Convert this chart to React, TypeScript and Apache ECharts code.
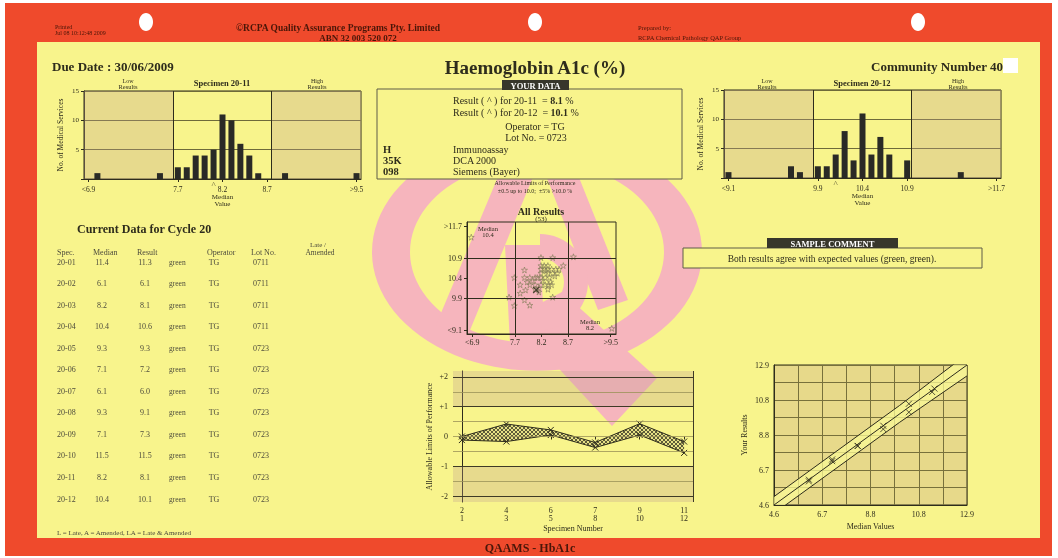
import React, { useEffect, useRef } from 'react';
import * as echarts from 'echarts';

const SERIF = '"Liberation Serif", "DejaVu Serif", serif';
const INK = '#2e2c1c';
const GREY = '#4d4b3c';
const RED = '#ef4a2c';
const YELLOW = '#f8f48c';
const TAN = 'rgba(191,158,147,0.30)';
const PINK = '#f6b5bd';

// ---- Histogram specimen 20-11 (31 bins: 10 low, 11 middle, 10 high) ----
const hist1Counts = [0, 1, 0, 0, 0, 0, 0, 0, 1, 0, 2, 2, 4, 4, 5, 11, 10, 6, 4, 1, 0, 0, 1, 0, 0, 0, 0, 0, 0, 0, 1];
const hist1TickBins = [0, 10, 15, 20, 30];
const hist1TickLabels = ['<6.9', '7.7', '8.2', '8.7', '>9.5'];
const hist1ResultBin = 14;

// ---- Histogram specimen 20-12 ----
const hist2Counts = [1, 0, 0, 0, 0, 0, 0, 2, 1, 0, 2, 2, 4, 8, 3, 11, 4, 7, 4, 0, 3, 0, 0, 0, 0, 0, 1, 0, 0, 0, 0];
const hist2TickBins = [0, 10, 15, 20, 30];
const hist2TickLabels = ['<9.1', '9.9', '10.4', '10.9', '>11.7'];
const hist2ResultBin = 12;

const histLowEnd = 10;
const histHighStart = 21;

// ---- All results scatter (20-11 vs 20-12) ----
const allResults: number[][] = [
  [6.88, 11.42], [7.59, 9.92], [7.69, 10.41], [7.69, 9.71], [7.8, 10.23], [7.8, 10.02],
  [7.88, 10.6], [7.88, 10.41], [7.88, 9.85], [7.98, 10.41], [7.98, 10.23], [7.98, 9.72],
  [8.08, 10.41], [8.08, 10.23], [8.08, 10.12], [8.19, 10.91], [8.41, 10.91], [8.8, 10.93],
  [8.19, 10.71], [8.25, 10.71], [8.32, 10.71], [8.61, 10.71], [8.19, 10.62], [8.25, 10.62],
  [8.32, 10.62], [8.39, 10.62], [8.47, 10.62], [8.53, 10.62], [8.19, 10.52], [8.32, 10.52],
  [8.41, 10.52], [8.5, 10.52], [8.12, 10.41], [8.19, 10.41], [8.27, 10.41], [8.35, 10.41],
  [8.19, 10.23], [8.27, 10.23], [8.33, 10.23], [8.39, 10.23], [8.15, 10.15], [8.32, 10.12],
  [8.41, 9.92], [9.52, 9.14], [7.93, 10.3], [8.03, 10.33], [8.22, 10.34], [8.45, 10.45],
  [8.15, 10.05], [7.9, 10.1], [8.28, 10.58], [8.37, 10.3],
];
const allXTicks = [6.9, 7.7, 8.2, 8.7, 9.5];
const allXLabels = ['<6.9', '7.7', '8.2', '8.7', '>9.5'];
const allYTicks = [9.1, 9.9, 10.4, 10.9, 11.7];
const allYLabels = ['<9.1', '9.9', '10.4', '10.9', '>11.7'];
const myResult = [8.1, 10.1];

// ---- Current data table ----
const specs = ['20-01', '20-02', '20-03', '20-04', '20-05', '20-06', '20-07', '20-08', '20-09', '20-10', '20-11', '20-12'];
const medians = [11.4, 6.1, 8.2, 10.4, 9.3, 7.1, 6.1, 9.3, 7.1, 11.5, 8.2, 10.4];
const results = [11.3, 6.1, 8.1, 10.6, 9.3, 7.2, 6.0, 9.1, 7.3, 11.5, 8.1, 10.1];
const statuses = ['green', 'green', 'green', 'green', 'green', 'green', 'green', 'green', 'green', 'green', 'green', 'green'];
const operators = ['TG', 'TG', 'TG', 'TG', 'TG', 'TG', 'TG', 'TG', 'TG', 'TG', 'TG', 'TG'];
const lots = ['0711', '0711', '0711', '0711', '0723', '0723', '0723', '0723', '0723', '0723', '0723', '0723'];

// ---- Allowable limits of performance ----
const perfTopLabels = ['2', '4', '6', '7', '9', '11'];
const perfBottomLabels = ['1', '3', '5', '8', '10', '12'];
const perfUpper = [0.0, 0.42, 0.22, -0.2, 0.43, -0.17];
const perfLower = [-0.12, -0.17, 0.05, -0.37, 0.05, -0.55];
const perfDarkLines = [-2, -1, 1, 2];
const perfLightLines = [-1.5, -0.5, 0, 0.5, 1.5];

// ---- Your results vs median ----
const limitX = [4.6, 10.0, 12.9];
const limitUpper = [5.1, 10.5, 13.545];
const limitLower = [4.1, 9.5, 12.255];
const identityLine = [[4.6, 4.6], [12.9, 12.9]];

const STAR = 'path://M5,0L6.2,3.6L10,3.6L6.9,5.9L8.1,9.5L5,7.3L1.9,9.5L3.1,5.9L0,3.6L3.8,3.6Z';
const CROSS = 'path://M0,0L10,10M10,0L0,10';

const txtStyle = (size: number, extra: any = {}) => ({ fontSize: size, color: INK, fontFamily: SERIF, ...extra });

function T(text: string, x: number, y: number, size: number, o: any = {}) {
  return {
    type: 'text', x, y, z: 20, silent: true,
    style: {
      text, fill: o.fill || INK,
      font: `${o.bold ? 'bold ' : ''}${size}px ${SERIF}`,
      textAlign: o.align || 'left', textVerticalAlign: 'middle',
      rich: o.rich,
    },
  };
}

function histogram(gi: number, counts: number[], tickBins: number[], tickLabels: string[], resultBin: number) {
  const tickVals = tickBins.map((b) => b + 0.5);
  const xAxis = {
    gridIndex: gi, type: 'value', min: 0, max: counts.length,
    axisLine: { show: true, lineStyle: { color: INK, width: 1 } },
    axisTick: { show: true, customValues: tickVals, length: 3, lineStyle: { color: INK } },
    axisLabel: {
      show: true, customValues: tickVals, margin: 6, ...txtStyle(7.5),
      formatter: (v: number) => {
        const i = tickVals.findIndex((t) => Math.abs(t - v) < 1e-6);
        return i >= 0 ? tickLabels[i] : '';
      },
    },
    splitLine: { show: false },
    name: 'Median\nValue', nameLocation: 'middle', nameGap: 13,
    nameTextStyle: txtStyle(7, { lineHeight: 7 }),
  };
  const yAxis = {
    gridIndex: gi, type: 'value', min: 0, max: 15, interval: 5,
    axisLine: { show: true, lineStyle: { color: INK } },
    axisTick: { show: true, length: 3, lineStyle: { color: INK } },
    axisLabel: { ...txtStyle(7), margin: 5, formatter: (v: number) => (v === 0 ? '' : String(v)) },
    splitLine: { show: true, lineStyle: { color: '#6e6a3a', width: 1 } },
    name: 'No. of Medical Services', nameLocation: 'middle', nameGap: 20,
    nameTextStyle: txtStyle(7.5),
  };
  const series = [
    {
      type: 'bar', xAxisIndex: gi, yAxisIndex: gi, barWidth: 6,
      data: counts.map((c, i) => [i + 0.5, c]).filter((d) => d[1] > 0),
      itemStyle: { color: '#2a2a26' }, silent: true,
      markArea: {
        silent: true, itemStyle: { color: TAN },
        data: [[{ xAxis: 0 }, { xAxis: histLowEnd }], [{ xAxis: histHighStart }, { xAxis: counts.length }]],
      },
      markLine: {
        silent: true, symbol: 'none', label: { show: false },
        lineStyle: { color: INK, width: 1, type: 'solid' },
        data: [{ xAxis: histLowEnd }, { xAxis: histHighStart }],
      },
    },
    {
      type: 'scatter', xAxisIndex: gi, yAxisIndex: gi, data: [[resultBin + 0.5, 0]],
      symbolSize: 2, itemStyle: { color: 'transparent' }, silent: true,
      label: { show: true, formatter: '^', position: 'bottom', distance: 0, ...txtStyle(9) },
    },
  ];
  return { xAxis, yAxis, series };
}

// band between two lines, drawn as one polygon through the axes' scales
function bandSeries(xi: number, xs: number[], top: number[], bottom: number[], fill: any) {
  return {
    type: 'custom', xAxisIndex: xi, yAxisIndex: xi, clip: true, silent: true, z: 1,
    data: xs.map((x, i) => [x, top[i], bottom[i]]),
    encode: { x: 0, y: [1, 2] },
    renderItem: (params: any, api: any) => {
      if (params.dataIndex !== 0) return null;
      const up = xs.map((x, i) => api.coord([x, top[i]]));
      const dn = xs.map((x, i) => api.coord([x, bottom[i]])).reverse();
      return { type: 'polygon', shape: { points: [...up, ...dn] }, style: { fill, stroke: 'none' } };
    },
  };
}

function buildOption(pattern: any) {
  const h1 = histogram(0, hist1Counts, hist1TickBins, hist1TickLabels, hist1ResultBin);
  const h2 = histogram(1, hist2Counts, hist2TickBins, hist2TickLabels, hist2ResultBin);

  const lookup = (ticks: number[], labels: string[]) => (v: number) => {
    const i = ticks.findIndex((t) => Math.abs(t - v) < 1e-6);
    return i >= 0 ? labels[i] : '';
  };

  const gridBorder = { show: true, borderColor: INK, borderWidth: 1, backgroundColor: 'transparent' };

  const grid = [
    { left: 84, top: 91, width: 277, height: 88, ...gridBorder },
    { left: 724, top: 90, width: 277, height: 88, ...gridBorder },
    { left: 467, top: 222, width: 149, height: 112, ...gridBorder },
    { left: 453, top: 371, width: 240, height: 131, show: false },
    { left: 774, top: 365, width: 193, height: 140, show: true, borderColor: INK, borderWidth: 1, backgroundColor: '#e7d98a' },
  ];

  const xAxis: any[] = [
    h1.xAxis, h2.xAxis,
    {
      gridIndex: 2, type: 'value', min: 6.8, max: 9.6,
      axisLine: { show: true, lineStyle: { color: INK } },
      axisTick: { show: true, customValues: allXTicks, length: 3, lineStyle: { color: INK } },
      axisLabel: { customValues: allXTicks, formatter: lookup(allXTicks, allXLabels), margin: 4, ...txtStyle(8) },
      splitLine: { show: false },
    },
    {
      gridIndex: 3, type: 'value', min: -0.2, max: 5.2,
      axisLine: { show: false },
      axisTick: { show: true, customValues: [0, 1, 2, 3, 4, 5], length: 3, lineStyle: { color: INK } },
      axisLabel: {
        customValues: [0, 1, 2, 3, 4, 5], margin: 5, ...txtStyle(8, { lineHeight: 7.5 }),
        formatter: (v: number) => {
          const i = Math.round(v);
          return `${perfTopLabels[i]}\n${perfBottomLabels[i]}`;
        },
      },
      splitLine: { show: false },
      name: 'Specimen Number', nameLocation: 'middle', nameGap: 22, nameTextStyle: txtStyle(8),
    },
    {
      gridIndex: 4, type: 'value', min: 4.6, max: 12.9, interval: 1.0375,
      axisLine: { show: true, lineStyle: { color: INK } },
      axisTick: { show: false },
      axisLabel: { ...txtStyle(8), margin: 5, formatter: (v: number, i: number) => (i % 2 === 0 ? v.toFixed(1) : '') },
      splitLine: { show: true, lineStyle: { color: '#77703c', width: 1 } },
      name: 'Median Values', nameLocation: 'middle', nameGap: 17, nameTextStyle: txtStyle(8),
    },
  ];

  const yAxis: any[] = [
    h1.yAxis, h2.yAxis,
    {
      gridIndex: 2, type: 'value', min: 9.0, max: 11.8,
      axisLine: { show: true, lineStyle: { color: INK } },
      axisTick: { show: true, customValues: allYTicks, length: 3, lineStyle: { color: INK } },
      axisLabel: { customValues: allYTicks, formatter: lookup(allYTicks, allYLabels), margin: 5, ...txtStyle(8) },
      splitLine: { show: false },
    },
    {
      gridIndex: 3, type: 'value', min: -2.2, max: 2.2,
      axisLine: { show: true, lineStyle: { color: INK } },
      axisTick: { show: true, customValues: [-2, -1, 0, 1, 2], length: 3, lineStyle: { color: INK } },
      axisLabel: {
        customValues: [-2, -1, 0, 1, 2], margin: 5, ...txtStyle(8),
        formatter: (v: number) => (v > 0 ? `+${v}` : String(v)),
      },
      splitLine: { show: false },
      name: 'Allowable Limits of Performance', nameLocation: 'middle', nameGap: 20, nameTextStyle: txtStyle(8),
    },
    {
      gridIndex: 4, type: 'value', min: 4.6, max: 12.9, interval: 1.0375,
      axisLine: { show: true, lineStyle: { color: INK } },
      axisTick: { show: false },
      axisLabel: { ...txtStyle(8), margin: 5, formatter: (v: number, i: number) => (i % 2 === 0 ? v.toFixed(1) : '') },
      splitLine: { show: true, lineStyle: { color: '#77703c', width: 1 } },
      name: 'Your Results', nameLocation: 'middle', nameGap: 26, nameTextStyle: txtStyle(8),
    },
  ];

  const perfX = perfUpper.map((_, i) => i);

  const series: any[] = [
    ...h1.series, ...h2.series,
    {
      type: 'scatter', xAxisIndex: 2, yAxisIndex: 2, data: allResults, symbol: STAR, symbolSize: 6,
      itemStyle: { color: 'transparent', borderColor: '#857e5a', borderWidth: 0.8 }, silent: true,
      markLine: {
        silent: true, symbol: 'none', label: { show: false },
        lineStyle: { color: INK, width: 1, type: 'solid' },
        data: [{ xAxis: 7.7 }, { xAxis: 8.7 }, { yAxis: 9.9 }, { yAxis: 10.9 }],
      },
    },
    {
      type: 'scatter', xAxisIndex: 2, yAxisIndex: 2, data: [myResult], symbol: CROSS, symbolSize: 6,
      itemStyle: { color: 'transparent', borderColor: INK, borderWidth: 1.2 }, silent: true,
    },
    // performance band
    bandSeries(3, perfX, perfUpper, perfLower, pattern),
    {
      type: 'line', xAxisIndex: 3, yAxisIndex: 3,
      data: perfLower.map((v, i) => [i, v]),
      symbol: CROSS, symbolSize: 6, lineStyle: { color: INK, width: 1 },
      itemStyle: { color: 'transparent', borderColor: INK, borderWidth: 1 }, silent: true,
      markArea: {
        silent: true, itemStyle: { color: TAN },
        data: [[{ yAxis: 1 }, { yAxis: 2.2 }], [{ yAxis: -2.2 }, { yAxis: -1 }]],
      },
      markLine: {
        silent: true, symbol: 'none', label: { show: false },
        lineStyle: { color: '#3e3a26', width: 1, type: 'solid' },
        data: [...perfDarkLines.map((v) => ({ yAxis: v })), { xAxis: 5.2 }],
      },
    },
    {
      type: 'line', xAxisIndex: 3, yAxisIndex: 3,
      data: perfUpper.map((v, i) => [i, v]),
      symbol: CROSS, symbolSize: 6, lineStyle: { color: INK, width: 1 },
      itemStyle: { color: 'transparent', borderColor: INK, borderWidth: 1 }, silent: true,
      markLine: {
        silent: true, symbol: 'none', label: { show: false },
        lineStyle: { color: '#9a9258', width: 0.8, type: 'solid' },
        data: perfLightLines.map((v) => ({ yAxis: v })),
      },
    },
    // results vs medians
    bandSeries(4, limitX, limitUpper, limitLower, 'rgba(250,248,150,0.75)'),
    {
      type: 'line', xAxisIndex: 4, yAxisIndex: 4, data: limitX.map((x, i) => [x, limitLower[i]]), symbol: 'none',
      lineStyle: { color: INK, width: 1 }, silent: true,
    },
    {
      type: 'line', xAxisIndex: 4, yAxisIndex: 4, data: limitX.map((x, i) => [x, limitUpper[i]]), symbol: 'none',
      lineStyle: { color: INK, width: 1 }, silent: true,
    },
    {
      type: 'line', xAxisIndex: 4, yAxisIndex: 4, data: identityLine, symbol: 'none',
      lineStyle: { color: INK, width: 1 }, silent: true,
    },
    {
      type: 'scatter', xAxisIndex: 4, yAxisIndex: 4, data: medians.map((m, i) => [m, results[i]]),
      symbol: CROSS, symbolSize: 6, itemStyle: { color: 'transparent', borderColor: INK, borderWidth: 1 }, silent: true,
    },
  ];

  // ---- graphic: page, header, text blocks, table, watermark ----
  const g: any[] = [
    { type: 'rect', z: -8, silent: true, shape: { x: 0, y: 0, width: 1058, height: 558 }, style: { fill: '#ffffff' } },
    { type: 'rect', z: -7, silent: true, shape: { x: 5, y: 3, width: 1047, height: 553 }, style: { fill: RED } },
    { type: 'rect', z: -6, silent: true, shape: { x: 37, y: 42, width: 1003, height: 496 }, style: { fill: YELLOW } },
  ];
  [146, 535, 918].forEach((cx) =>
    g.push({ type: 'ellipse', z: -5, silent: true, shape: { cx, cy: 22, rx: 7, ry: 9 }, style: { fill: '#ffffff' } }));

  // watermark (QAP logo)
  const wm = { fill: PINK };
  g.push({
    type: 'group', x: 537, y: 252, scaleY: 0.72, z: -5, silent: true,
    children: [{ type: 'ring', z: -5, shape: { cx: 0, cy: 0, r: 165, r0: 127 }, style: wm }],
  });
  g.push({ type: 'polygon', z: -5, silent: true, shape: { points: [[512, 318], [562, 292], [657, 378], [612, 426]] }, style: wm });
  g.push({ type: 'polygon', z: -5, silent: true, shape: { points: [[505, 160], [540, 160], [468, 335], [436, 325]] }, style: wm });
  g.push({ type: 'polygon', z: -5, silent: true, shape: { points: [[540, 160], [572, 160], [628, 300], [598, 310]] }, style: wm });
  g.push({ type: 'polygon', z: -5, silent: true, shape: { points: [[505, 245], [540, 245], [545, 345], [510, 345]] }, style: wm });
  g.push({
    type: 'sector', z: -5, silent: true,
    shape: { cx: 540, cy: 282, r: 48, r0: 24, startAngle: -Math.PI / 2, endAngle: Math.PI / 2, clockwise: true },
    style: wm,
  });

  // header
  const HD = '#4a1608';
  g.push(T('Printed', 55, 27, 6, { fill: HD }), T('Jul 08 10:12:48 2009', 55, 33, 6, { fill: HD }));
  g.push(T('©RCPA Quality Assurance Programs Pty. Limited', 338, 28, 9.5, { bold: true, align: 'center', fill: HD }));
  g.push(T('ABN 32 003 520 072', 358, 37.5, 9, { bold: true, align: 'center', fill: HD }));
  g.push(T('Prepared by:', 638, 27, 6.5, { fill: HD }), T('RCPA Chemical Pathology QAP Group', 638, 37, 6.5, { fill: HD }));
  g.push(T('QAAMS - HbA1c', 530, 548, 12, { bold: true, align: 'center', fill: HD }));

  // titles
  g.push(T('Due Date : 30/06/2009', 52, 66, 13, { bold: true }));
  g.push(T('Haemoglobin A1c (%)', 535, 67, 19, { bold: true, align: 'center' }));
  g.push(T('Community Number 40', 1003, 66, 13, { bold: true, align: 'right' }));
  g.push({ type: 'rect', z: 21, silent: true, shape: { x: 1003, y: 58, width: 15, height: 15 }, style: { fill: '#ffffff' } });

  // histogram headers
  [[128, 222, 317, 'Specimen 20-11'], [767, 862, 958, 'Specimen 20-12']].forEach(([lx, cx, hx, name]: any) => {
    g.push(T('Low', lx, 80.5, 6, { align: 'center' }), T('Results', lx, 86.5, 6.5, { align: 'center' }));
    g.push(T(name, cx, 83, 8.5, { bold: true, align: 'center' }));
    g.push(T('High', hx, 80.5, 6, { align: 'center' }), T('Results', hx, 86.5, 6.5, { align: 'center' }));
  });

  // your data
  g.push({ type: 'rect', z: -2, silent: true, shape: { x: 377, y: 89, width: 305, height: 90 }, style: { fill: YELLOW, stroke: '#5e5c48', lineWidth: 1 } });
  g.push({ type: 'rect', z: 19, silent: true, shape: { x: 502, y: 80, width: 67, height: 10 }, style: { fill: '#37362b' } });
  g.push(T('YOUR DATA', 535.5, 85.5, 8.5, { bold: true, align: 'center', fill: '#ffffff' }));
  const rich = { b: { font: `bold 10px ${SERIF}`, fill: INK } };
  g.push(T('Result ( ^ ) for 20-11  = {b|8.1} %', 453, 100, 10, { rich }));
  g.push(T('Result ( ^ ) for 20-12  = {b|10.1} %', 453, 112, 10, { rich }));
  g.push(T('Operator = TG', 535, 126, 10, { align: 'center' }));
  g.push(T('Lot No. = 0723', 536, 137, 10, { align: 'center' }));
  [['H', 'Immunoassay', 149], ['35K', 'DCA 2000', 160], ['098', 'Siemens (Bayer)', 171]].forEach(([a, b, y]: any) => {
    g.push(T(a, 383, y, 10.5, { bold: true }), T(b, 453, y, 10));
  });
  g.push(T('Allowable Limits of Performance', 535, 183, 6, { align: 'center' }));
  g.push(T('±0.5 up to 10.0;  ±5% >10.0 %', 535, 191, 6, { align: 'center' }));

  // all results labels
  g.push(T('All Results', 541, 211, 10, { bold: true, align: 'center' }));
  g.push(T('(53)', 541, 219, 7, { align: 'center' }));
  g.push(T('Median', 488, 228, 6.5, { align: 'center' }), T('10.4', 488, 234, 6.5, { align: 'center' }));
  g.push(T('Median', 590, 321, 6.5, { align: 'center' }), T('8.2', 590, 327, 6.5, { align: 'center' }));

  // sample comment
  g.push({ type: 'rect', z: 19, silent: true, shape: { x: 767, y: 238, width: 131, height: 10 }, style: { fill: '#37362b' } });
  g.push(T('SAMPLE COMMENT', 832.5, 243.5, 8.5, { bold: true, align: 'center', fill: '#ffffff' }));
  g.push({ type: 'rect', z: -2, silent: true, shape: { x: 683, y: 248, width: 299, height: 20 }, style: { fill: YELLOW, stroke: '#5e5c48', lineWidth: 1 } });
  g.push(T('Both results agree with expected values (green, green).', 832, 258.5, 9.5, { align: 'center' }));

  // table
  g.push(T('Current Data for Cycle 20', 77, 229, 12, { bold: true }));
  g.push(T('Spec.', 57, 252, 8, { fill: GREY }), T('Median', 93, 252, 8, { fill: GREY }), T('Result', 137, 252, 8, { fill: GREY }));
  g.push(T('Operator', 207, 252, 8, { fill: GREY }), T('Lot No.', 251, 252, 8, { fill: GREY }));
  g.push(T('Late /', 318, 245, 7, { fill: GREY, align: 'center' }), T('Amended', 320, 252, 7.5, { fill: GREY, align: 'center' }));
  specs.forEach((s, i) => {
    const y = 262 + i * 21.55;
    g.push(T(s, 57, y, 8, { fill: GREY }));
    g.push(T(medians[i].toFixed(1), 102, y, 8, { fill: GREY, align: 'center' }));
    g.push(T(results[i].toFixed(1), 145, y, 8, { fill: GREY, align: 'center' }));
    g.push(T(statuses[i], 169, y, 7.5, { fill: GREY }));
    g.push(T(operators[i], 214, y, 8, { fill: GREY, align: 'center' }));
    g.push(T(lots[i], 253, y, 8, { fill: GREY }));
  });
  g.push(T('L = Late, A = Amended, LA = Late & Amended', 57, 533, 7, { fill: GREY }));

  return { animation: false, grid, xAxis, yAxis, series, graphic: { elements: g } };
}

export default function App() {
  const ref = useRef<HTMLDivElement>(null);
  useEffect(() => {
    if (!ref.current) return;
    const c = document.createElement('canvas');
    c.width = 4; c.height = 4;
    const ctx = c.getContext('2d');
    if (ctx) {
      ctx.fillStyle = 'rgba(200,190,120,0.35)';
      ctx.fillRect(0, 0, 4, 4);
      ctx.strokeStyle = '#3a3826';
      ctx.lineWidth = 0.8;
      ctx.beginPath();
      ctx.moveTo(0, 0); ctx.lineTo(4, 4);
      ctx.moveTo(4, 0); ctx.lineTo(0, 4);
      ctx.stroke();
    }
    const pattern = { image: c.toDataURL(), repeat: 'repeat', imageWidth: 4, imageHeight: 4 };
    const chart = echarts.init(ref.current, null, { renderer: 'svg' });
    chart.setOption(buildOption(pattern) as any);
    return () => chart.dispose();
  }, []);
  return <div ref={ref} style={{ position: 'fixed', left: 0, top: 0, width: 1058, height: 558 }} />;
}
